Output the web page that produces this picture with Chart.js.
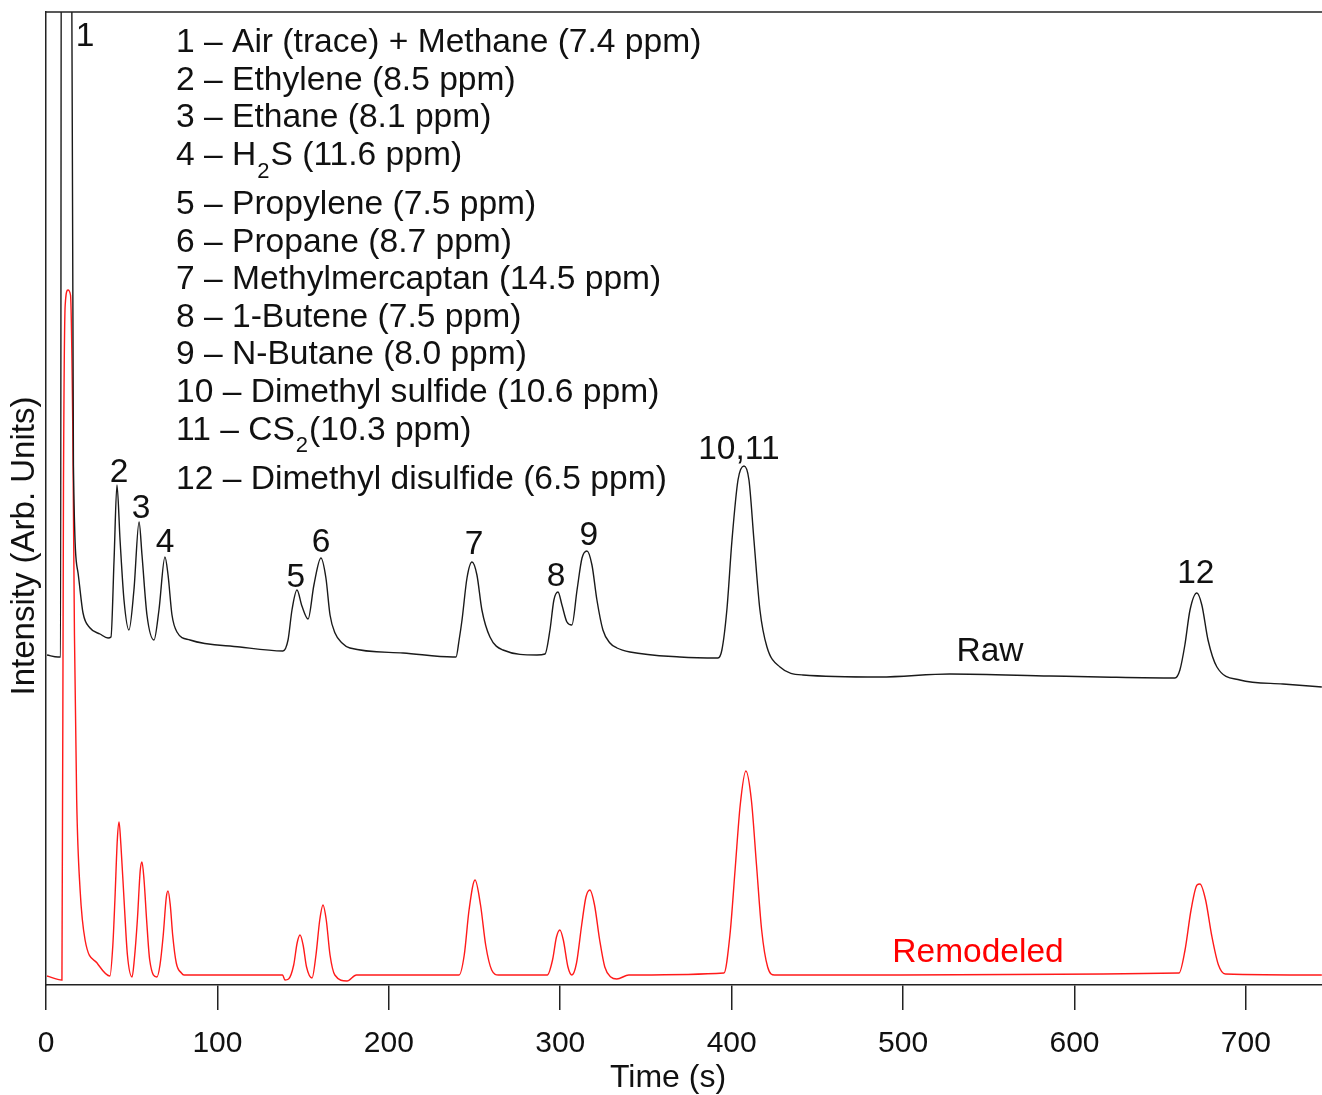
<!DOCTYPE html>
<html>
<head>
<meta charset="utf-8">
<title>GC chromatogram - raw vs remodeled</title>
<script src="https://cdn.jsdelivr.net/npm/chart.js@4.4.1/dist/chart.umd.min.js"></script>
<style>
  body { margin: 0; background: #fff; }
</style>
</head>
<body>
<canvas id="gc-chart" width="1322" height="1095"></canvas>
<script>
// Raw detector signal (time in s, intensity in arb. units)
const rawTime = [
  0.6, 7.0, 8.5, 9.0, 14.6, 16.0, 18.7, 21.6, 25.7, 31.5,
  36.2, 37.9, 39.7, 41.4, 43.2, 45.5, 48.4, 51.3, 54.3, 56.0,
  58.9, 63.0, 65.9, 69.4, 71.2, 73.5, 76.4, 84.0, 113.2, 138.2,
  141.2, 143.5, 146.4, 149.3, 152.9, 156.3, 160.4, 163.3, 165.7, 168.6,
  172.7, 177.3, 208.3, 237.4, 239.2, 241.0, 242.7, 245.6, 248.5, 251.4,
  254.3, 259.0, 266.6, 286.4, 291.1, 294.0, 296.3, 298.7, 301.0, 303.9,
  306.8, 309.8, 312.7, 315.6, 318.5, 321.4, 324.9, 329.0, 333.1, 340.7,
  369.8, 392.0, 394.3, 397.2, 400.2, 403.7, 407.2, 410.1, 413.0, 416.5,
  420.6, 428.2, 441.6, 486.5, 527.3, 585.7, 614.8, 658.6, 661.5, 664.4,
  667.4, 671.4, 674.3, 677.9, 683.1, 696.5, 721.6, 744.3
];
const rawIntensity = [
  330, 328, 328, 1200, 1200, 520, 412, 372, 357, 351,
  347, 348, 425, 500, 445, 385, 355, 395, 463, 430,
  370, 345, 375, 428, 410, 370, 353, 345, 338, 334,
  345, 375, 395, 379, 366, 400, 427, 407, 370, 352,
  342, 337, 332, 328, 328, 345, 365, 407, 423, 410,
  375, 348, 335, 330, 331, 355, 385, 393, 380, 363,
  360, 395, 427, 434, 420, 385, 355, 342, 337, 333,
  328, 327, 335, 375, 445, 505, 519, 505, 445, 375,
  338, 318, 310, 308, 311, 309, 308, 307, 315, 340,
  375, 392, 380, 345, 318, 305, 301, 298
];

// Remodeled (fitted) signal
const fitTime = [
  0.6, 9.3, 10.2, 11.2, 12.8, 14.3, 15.6, 16.6, 17.9, 19.9,
  22.8, 29.8, 37.3, 39.0, 40.2, 41.6, 42.6, 43.7, 45.7, 47.5,
  50.2, 51.5, 53.3, 55.0, 56.0, 57.2, 58.7, 60.5, 64.7, 66.5,
  68.4, 70.2, 71.2, 72.5, 73.9, 76.0, 79.0, 80.5, 138.0, 139.4,
  141.5, 144.5, 146.5, 148.2, 150.0, 152.0, 155.2, 157.5, 159.7, 161.6,
  163.5, 165.7, 168.5, 175.6, 181.1, 241.0, 244.0, 246.8, 250.3, 253.5,
  256.5, 260.0, 264.0, 292.5, 295.5, 297.8, 299.8, 301.8, 304.5, 306.8,
  309.5, 312.5, 315.0, 317.3, 320.0, 323.0, 326.0, 329.5, 333.0, 340.0,
  395.5, 399.0, 402.0, 405.0, 408.3, 411.5, 414.5, 417.5, 421.0, 425.0,
  661.0, 664.5, 668.0, 671.5, 673.2, 676.5, 680.0, 684.0, 688.0, 744.3
];
const fitIntensity = [
  9, 5, 500, 680, 695, 690, 560, 350, 185, 95,
  45, 22, 9, 40, 85, 145, 163, 140, 80, 30,
  8, 25, 65, 115, 123, 105, 65, 25, 8, 20,
  50, 88, 94, 80, 50, 22, 12, 10, 10, 5,
  6, 20, 42, 50, 40, 18, 7, 30, 65, 80,
  65, 30, 10, 4, 10, 10, 30, 75, 105, 80,
  40, 15, 10, 10, 25, 48, 55, 45, 18, 10,
  22, 60, 88, 95, 80, 45, 18, 8, 6, 10,
  12, 50, 115, 180, 214, 185, 120, 55, 18, 10,
  12, 35, 75, 100, 101, 85, 50, 20, 11, 10
];

// Peak numbers written over the raw trace
const peakNames = ["1", "2", "3", "4", "5", "6", "7", "8", "9", "10,11", "12"];
const peakNameTime = [22.8, 42.6, 55.4, 69.4, 145.8, 160.4, 249.7, 297.5, 316.7, 404.2, 670.8];
const peakNameLevel = [948, 512, 476, 442, 407, 442, 440, 408, 449, 535, 411];

// Compound list ("_" marks a subscript character)
const compounds = [
  "1 – Air (trace) + Methane (7.4 ppm)",
  "2 – Ethylene (8.5 ppm)",
  "3 – Ethane (8.1 ppm)",
  "4 – H_2S (11.6 ppm)",
  "5 – Propylene (7.5 ppm)",
  "6 – Propane (8.7 ppm)",
  "7 – Methylmercaptan (14.5 ppm)",
  "8 – 1-Butene (7.5 ppm)",
  "9 – N-Butane (8.0 ppm)",
  "10 – Dimethyl sulfide (10.6 ppm)",
  "11 – CS_2(10.3 ppm)",
  "12 – Dimethyl disulfide (6.5 ppm)"
];

const traceNames = ["Raw", "Remodeled"];
const traceNameTime = [550.7, 543.7];
const traceNameLevel = [333, 32];

const xTicks = [0, 100, 200, 300, 400, 500, 600, 700];

const fontFamily = "'Liberation Sans', Arial, sans-serif";
const inkColor = "#111";
const axisColor = "#222";
const rawColor = "#1a1a1a";
const fitColor = "#ff1a1a";

function toPoints(times, values) {
  return times.map((t, i) => ({ x: t, y: values[i] }));
}

// Draw one compound line, handling subscripts
function drawCompound(ctx, text, x, y) {
  const parts = text.split("_");
  ctx.font = "33.6px " + fontFamily;
  ctx.fillText(parts[0], x, y);
  let cx = x + ctx.measureText(parts[0]).width;
  for (let i = 1; i < parts.length; i++) {
    const sub = parts[i].charAt(0);
    const rest = parts[i].slice(1);
    ctx.font = "22px " + fontFamily;
    ctx.fillText(sub, cx + 1, y + 16);
    cx += ctx.measureText(sub).width + 2;
    ctx.font = "33.6px " + fontFamily;
    ctx.fillText(rest, cx, y);
    cx += ctx.measureText(rest).width;
  }
}

const annotationPlugin = {
  id: "gcAnnotations",
  afterDraw(chart) {
    const { ctx, chartArea, scales } = chart;
    ctx.save();

    // top frame line
    ctx.strokeStyle = axisColor;
    ctx.lineWidth = 1.5;
    ctx.beginPath();
    ctx.moveTo(chartArea.left, chartArea.top);
    ctx.lineTo(chartArea.right, chartArea.top);
    ctx.stroke();

    ctx.fillStyle = inkColor;
    ctx.textBaseline = "middle";

    // compound list
    ctx.textAlign = "left";
    let ly = chartArea.top + 31;
    compounds.forEach((c) => {
      drawCompound(ctx, c, chartArea.left + 130, ly);
      ly += c.includes("_") ? 49 : 37.6;
    });

    // peak numbers
    ctx.textAlign = "center";
    ctx.font = "33.5px " + fontFamily;
    peakNames.forEach((name, i) => {
      ctx.fillText(name, scales.x.getPixelForValue(peakNameTime[i]), scales.y.getPixelForValue(peakNameLevel[i]));
    });

    // trace names
    traceNames.forEach((name, i) => {
      ctx.fillStyle = i === 0 ? inkColor : "#ff0000";
      ctx.fillText(name, scales.x.getPixelForValue(traceNameTime[i]), scales.y.getPixelForValue(traceNameLevel[i]));
    });

    // axis titles
    ctx.fillStyle = inkColor;
    ctx.font = "32px " + fontFamily;
    ctx.fillText("Time (s)", 668, 1078);
    ctx.translate(25, 546);
    ctx.rotate(-Math.PI / 2);
    ctx.font = "33px " + fontFamily;
    ctx.fillText("Intensity (Arb. Units)", 0, 0);

    ctx.restore();
  }
};

// Initialize Chart
const chartCtx = document.getElementById("gc-chart").getContext("2d");
const gcChart = new Chart(chartCtx, {
  type: "line",
  data: {
    datasets: [
      {
        label: "Raw",
        data: toPoints(rawTime, rawIntensity),
        borderColor: rawColor,
        borderWidth: 1.4,
        pointRadius: 0,
        cubicInterpolationMode: "monotone",
      },
      {
        label: "Remodeled",
        data: toPoints(fitTime, fitIntensity),
        borderColor: fitColor,
        borderWidth: 1.4,
        pointRadius: 0,
        cubicInterpolationMode: "monotone",
      },
    ],
  },
  options: {
    responsive: false,
    animation: false,
    layout: { padding: { top: 12, left: 0, right: 0, bottom: 0 } },
    plugins: {
      legend: { display: false },
      tooltip: { enabled: false },
    },
    scales: {
      x: {
        type: "linear",
        min: 0,
        max: 744.4,
        afterBuildTicks: (scale) => {
          scale.ticks = xTicks.map((v) => ({ value: v }));
        },
        afterFit: (scale) => {
          scale.height = 110;
        },
        ticks: {
          color: inkColor,
          font: { family: fontFamily, size: 30 },
          padding: 16,
          maxRotation: 0,
          autoSkip: false,
        },
        grid: {
          drawOnChartArea: false,
          tickLength: 25,
          color: axisColor,
          lineWidth: 1.5,
        },
        border: { display: true, color: axisColor, width: 1.5 },
      },
      y: {
        min: 0,
        max: 973,
        afterFit: (scale) => {
          scale.width = 46;
        },
        ticks: { display: false },
        grid: { display: false },
        border: { display: true, color: axisColor, width: 1.5 },
      },
    },
  },
  plugins: [annotationPlugin],
});
</script>
</body>
</html>
